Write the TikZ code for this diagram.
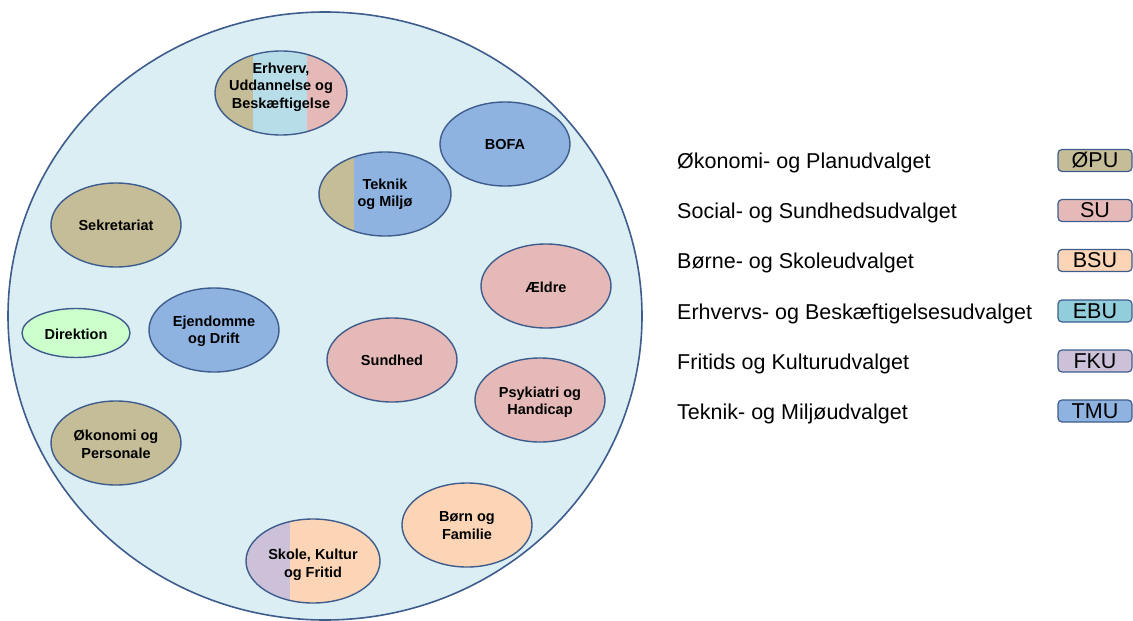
\documentclass[tikz,border=0pt]{standalone}
\usepackage{fontspec}
\setmainfont{Liberation Sans}
\definecolor{bgc}{RGB}{219,238,243}
\definecolor{edge}{RGB}{62,92,140}
\definecolor{opu}{RGB}{196,189,151}
\definecolor{su}{RGB}{229,185,183}
\definecolor{bsu}{RGB}{251,213,181}
\definecolor{ebu}{RGB}{146,205,220}
\definecolor{ebul}{RGB}{183,221,232}
\definecolor{fku}{RGB}{204,193,217}
\definecolor{tmu}{RGB}{142,179,225}
\definecolor{dir}{RGB}{204,255,204}
\tikzset{
  x=1pt, y=-1pt,
  elab/.style={font=\fontsize{14.5}{17.5}\selectfont\bfseries, align=center, inner sep=0pt},
  eline/.style={draw=edge, line width=1.4pt},
  legtext/.style={font=\fontsize{21.5}{24}\selectfont, anchor=base west, inner sep=0pt},
  legbox/.style={draw=edge, line width=1.2pt, rounded corners=4pt, minimum width=74pt, minimum height=22pt, inner sep=0pt, font=\fontsize{21.5}{24}\selectfont},
}
\begin{document}
\begin{tikzpicture}
\useasboundingbox (0,0) rectangle (1133,621);
% big circle
\draw[fill=bgc, draw=edge, line width=1.6pt] (325,316) ellipse [x radius=317, y radius=304];

% Erhverv (three stripes)
\begin{scope}
  \clip (281,93) ellipse [x radius=66, y radius=42];
  \fill[opu] (210,45) rectangle (253,140);
  \fill[ebul] (253,45) rectangle (307,140);
  \fill[su] (307,45) rectangle (350,140);
\end{scope}
\draw[eline] (281,93) ellipse [x radius=66, y radius=42];
\node[elab] (erhverv) at (281,87) {Erhverv,\\Uddannelse og\\Beskæftigelse};

% BOFA
\draw[eline, fill=tmu] (505,144) ellipse [x radius=65, y radius=42];
\node[elab] (bofa) at (505,145) {BOFA};

% Teknik og Miljø
\begin{scope}
  \clip (385,194) ellipse [x radius=66, y radius=42];
  \fill[opu] (315,150) rectangle (354,240);
  \fill[tmu] (354,150) rectangle (455,240);
\end{scope}
\draw[eline] (385,194) ellipse [x radius=66, y radius=42];
\node[elab] (teknik) at (385,194.5) {Teknik\\og Miljø};

% Sekretariat
\draw[eline, fill=opu] (116,225) ellipse [x radius=65, y radius=42];
\node[elab] (sekr) at (116,225) {Sekretariat};

% Ældre
\draw[eline, fill=su] (546,286) ellipse [x radius=65, y radius=42];
\node[elab] (aeldre) at (546,287) {Ældre};

% Direktion
\draw[eline, fill=dir] (76,333) ellipse [x radius=54, y radius=24.5];
\node[elab] (dirk) at (76,334) {Direktion};

% Ejendomme og Drift
\draw[eline, fill=tmu] (214,330) ellipse [x radius=65, y radius=42];
\node[elab] (ejd) at (214,331.5) {Ejendomme\\og Drift};

% Sundhed
\draw[eline, fill=su] (392,360) ellipse [x radius=65, y radius=42];
\node[elab] (sund) at (392,360) {Sundhed};

% Psykiatri og Handicap
\draw[eline, fill=su] (540,400) ellipse [x radius=65, y radius=42];
\node[elab] (psyk) at (540,402) {Psykiatri og\\Handicap};

% Økonomi og Personale
\draw[eline, fill=opu] (116,443) ellipse [x radius=65, y radius=42];
\node[elab] (okon) at (116,444.5) {Økonomi og\\Personale};

% Børn og Familie
\draw[eline, fill=bsu] (467,525) ellipse [x radius=65, y radius=42];
\node[elab] (born) at (467,525.5) {Børn og\\Familie};

% Skole, Kultur og Fritid
\begin{scope}
  \clip (313,561) ellipse [x radius=67, y radius=42];
  \fill[fku] (240,515) rectangle (290,610);
  \fill[bsu] (290,515) rectangle (385,610);
\end{scope}
\draw[eline] (313,561) ellipse [x radius=67, y radius=42];
\node[elab] (skole) at (313,565) {Skole, Kultur\\og Fritid};

% Legend
\node[legtext] (t1) at (677,168.5) {Økonomi- og Planudvalget};
\node[legtext] (t2) at (677,218.5) {Social- og Sundhedsudvalget};
\node[legtext] (t3) at (677,268.5) {Børne- og Skoleudvalget};
\node[legtext] (t4) at (677,319) {Erhvervs- og Beskæftigelsesudvalget};
\node[legtext] (t5) at (677,369) {Fritids og Kulturudvalget};
\node[legtext] (t6) at (677,419) {Teknik- og Miljøudvalget};

\node[legbox, fill=opu] (b1) at (1095,160.5) {ØPU};
\node[legbox, fill=su] (b2) at (1095,210.5) {SU};
\node[legbox, fill=bsu] (b3) at (1095,260.5) {BSU};
\node[legbox, fill=ebu] (b4) at (1095,311) {EBU};
\node[legbox, fill=fku] (b5) at (1095,361) {FKU};
\node[legbox, fill=tmu] (b6) at (1095,411) {TMU};
\end{tikzpicture}
\end{document}
